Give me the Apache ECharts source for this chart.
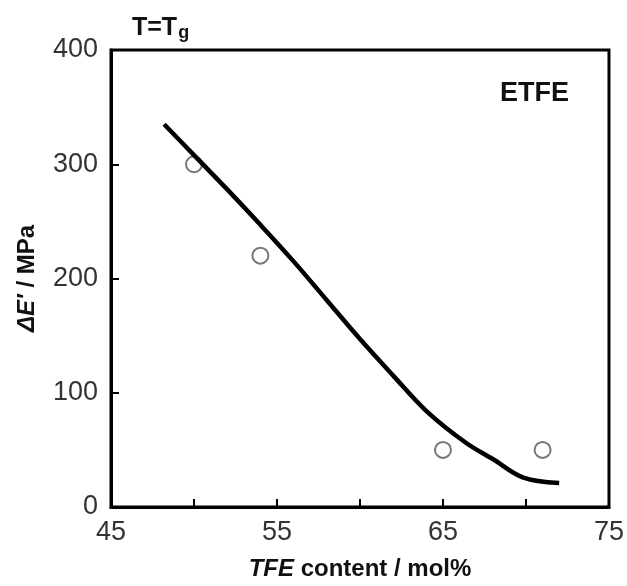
<!doctype html>
<html>
<head>
    <meta charset="UTF-8">
    <title>ETFE</title>
    <script src="https://cdn.jsdelivr.net/npm/echarts@6/dist/echarts.min.js"></script>
    <style>
        html, body { margin: 0; padding: 0; background: #fff; }
        #main { width: 627px; height: 586px; }
    </style>
</head>
<body>
<div id="main"></div>
<script>
    // 计算曲线 (TFE mol%, ΔE')
    var curveX = [48.2, 50, 52, 54, 56, 58, 60, 62, 64, 66.4, 68, 69.8, 72];
    var curveY = [335, 308, 278, 247, 215, 181, 147, 115, 84, 56, 42, 26, 21];
    // 实验点
    var pointX = [50, 54, 65, 71];
    var pointY = [300, 220, 50, 50];
    var xTicks = [45, 55, 65, 75];

    var font = '"Liberation Sans", Arial, sans-serif';
    var dom = document.getElementById("main");
    var myChart = echarts.init(dom);

    var option = {
        backgroundColor: '#fff',
        animation: false,
        title: [
            {
                text: '{a|T=T}{s|g}',
                left: 127,
                top: 9,
                textStyle: {
                    rich: {
                        a: { fontFamily: font, fontSize: 25, fontWeight: 'bold', color: '#111' },
                        s: { fontFamily: font, fontSize: 18, fontWeight: 'bold', color: '#111', padding: [10, 0, 0, 1] }
                    }
                }
            },
            {
                text: 'ETFE',
                left: 495,
                top: 75,
                textStyle: { fontFamily: font, fontSize: 27, fontWeight: 'bold', color: '#111' }
            }
        ],
        grid: {
            left: 111,
            right: 18,
            top: 50,
            bottom: 78,
            show: true,
            borderColor: '#000',
            borderWidth: 3,
            backgroundColor: 'transparent'
        },
        xAxis: {
            type: 'value',
            min: 45,
            max: 75,
            interval: 5,
            name: '{i|TFE} content / mol%',
            nameLocation: 'middle',
            nameGap: 50,
            nameTextStyle: {
                fontFamily: font, fontSize: 24, fontWeight: 'bold', color: '#111',
                rich: { i: { fontFamily: font, fontSize: 24, fontWeight: 'bold', fontStyle: 'italic', color: '#111' } }
            },
            axisLine: { lineStyle: { color: '#000', width: 3 } },
            axisTick: { inside: true, length: 8, lineStyle: { color: '#000', width: 2 } },
            splitLine: { show: false },
            axisLabel: {
                margin: 12,
                fontFamily: font,
                fontSize: 27,
                color: '#333',
                formatter: function (v) {
                    return xTicks.indexOf(v) >= 0 ? String(v) : '';
                }
            }
        },
        yAxis: {
            type: 'value',
            min: 0,
            max: 400,
            interval: 100,
            name: '{i|ΔE′} / MPa',
            nameLocation: 'middle',
            nameGap: 72,
            nameTextStyle: {
                fontFamily: font, fontSize: 24, fontWeight: 'bold', color: '#111',
                rich: { i: { fontFamily: font, fontSize: 24, fontWeight: 'bold', fontStyle: 'italic', color: '#111' } }
            },
            axisLine: { lineStyle: { color: '#000', width: 3 } },
            axisTick: { inside: true, length: 8, lineStyle: { color: '#000', width: 2 } },
            splitLine: { show: false },
            axisLabel: {
                margin: 13,
                fontFamily: font,
                fontSize: 27,
                color: '#333'
            }
        },
        series: [
            {
                type: 'line',
                data: curveX.map(function (x, i) { return [x, curveY[i]]; }),
                showSymbol: false,
                smooth: 0.35,
                lineStyle: { color: '#000', width: 4.5 }
            },
            {
                type: 'scatter',
                data: pointX.map(function (x, i) { return [x, pointY[i]]; }),
                symbol: 'circle',
                symbolSize: 16,
                itemStyle: { color: '#fff', borderColor: '#555', borderWidth: 2 }
            }
        ]
    };
    myChart.setOption(option);
</script>
</body>
</html>
